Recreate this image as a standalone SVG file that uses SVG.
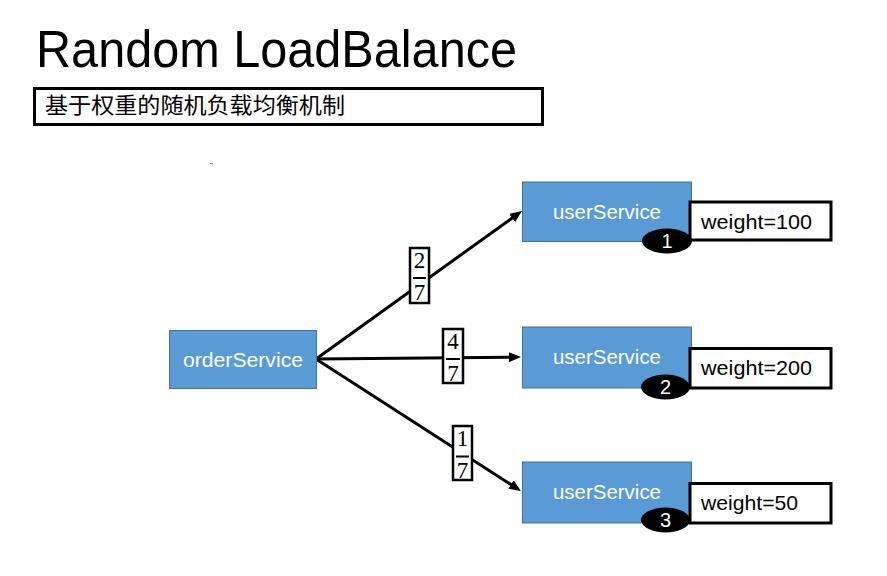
<svg xmlns="http://www.w3.org/2000/svg" width="887" height="576" viewBox="0 0 887 576">
<style>
.svc{fill:#5B9BD5;stroke:#41719C;stroke-width:1}
.svct{fill:#fff;font-family:"Liberation Sans",Arial,sans-serif;font-size:20px;text-anchor:middle}
.wbox{fill:#fff;stroke:#000;stroke-width:3}
.wt{fill:#000;font-family:"Liberation Sans",Arial,sans-serif;font-size:21px}
.badge{fill:#000}
.bt{fill:#fff;font-family:"Liberation Sans",Arial,sans-serif;font-size:20px;text-anchor:middle}
.edge{stroke:#000;stroke-width:3;fill:none;marker-end:url(#arr)}
.fbox{fill:#fff;stroke:#000;stroke-width:2.5}
.ft{fill:#000;font-family:"Liberation Serif","Times New Roman",serif;font-size:23px;text-anchor:middle}
</style>
<defs>
<marker id="arr" viewBox="0 0 12 10" refX="6" refY="5" markerWidth="12" markerHeight="10" markerUnits="userSpaceOnUse" orient="auto">
<path d="M0,0 L12,5 L0,10 z" fill="#000"/>
</marker>
</defs>
<rect width="887" height="576" fill="#fff"/>
<g id="title">
<text x="36" y="67" font-family="'Liberation Sans',Arial,sans-serif" font-size="52" textLength="481" lengthAdjust="spacingAndGlyphs" fill="#000">Random LoadBalance</text>
</g>
<g id="subtitle">
<rect x="34.5" y="88.5" width="508" height="36" fill="#fff" stroke="#000" stroke-width="3"/>
<text x="45" y="113" font-family="'Noto Sans CJK SC',sans-serif" font-size="22" textLength="300" lengthAdjust="spacingAndGlyphs" fill="#000">基于权重的随机负载均衡机制</text>
</g>
<line x1="210" y1="163.5" x2="213" y2="163.5" stroke="#888" stroke-width="1"/>
<g id="connectors">
<line class="edge" x1="316" y1="359" x2="517.1" y2="214.5"/>
<line class="edge" x1="316" y1="359" x2="515" y2="357.1"/>
<line class="edge" x1="316" y1="359" x2="516" y2="487.8"/>
<g id="frac1">
<rect class="fbox" x="410" y="248" width="19" height="55"/>
<text class="ft" x="419.5" y="268">2</text>
<line x1="413" y1="278" x2="426" y2="278" stroke="#000" stroke-width="2"/>
<text class="ft" x="419.5" y="300">7</text>
</g>
<g id="frac2">
<rect class="fbox" x="443" y="329" width="20" height="54"/>
<text class="ft" x="453" y="349">4</text>
<line x1="446" y1="359" x2="460" y2="359" stroke="#000" stroke-width="2"/>
<text class="ft" x="453" y="381">7</text>
</g>
<g id="frac3">
<rect class="fbox" x="453" y="426" width="19" height="54"/>
<text class="ft" x="462.5" y="446">1</text>
<line x1="456" y1="456.5" x2="469" y2="456.5" stroke="#000" stroke-width="2"/>
<text class="ft" x="462.5" y="478">7</text>
</g>
</g>
<g id="orderService">
<rect class="svc" x="169.5" y="330.5" width="147" height="58"/>
<text class="svct" x="243" y="366.5" textLength="120" lengthAdjust="spacingAndGlyphs">orderService</text>
</g>
<g id="userService1">
<rect class="svc" x="522.5" y="182" width="169" height="59.5"/>
<text class="svct" x="607" y="219" textLength="108" lengthAdjust="spacingAndGlyphs">userService</text>
<rect class="wbox" x="690" y="202" width="141" height="38"/>
<text class="wt" x="701" y="228.5" textLength="111" lengthAdjust="spacingAndGlyphs">weight=100</text>
<ellipse class="badge" cx="667" cy="241" rx="25" ry="12.5"/>
<text class="bt" x="667" y="248">1</text>
</g>
<g id="userService2">
<rect class="svc" x="522.5" y="327" width="169" height="61"/>
<text class="svct" x="607" y="364" textLength="108" lengthAdjust="spacingAndGlyphs">userService</text>
<rect class="wbox" x="690" y="348.5" width="141" height="39.5"/>
<text class="wt" x="701" y="375" textLength="111" lengthAdjust="spacingAndGlyphs">weight=200</text>
<ellipse class="badge" cx="665.5" cy="387" rx="24.5" ry="12.5"/>
<text class="bt" x="665.5" y="394">2</text>
</g>
<g id="userService3">
<rect class="svc" x="522.5" y="462" width="169" height="61"/>
<text class="svct" x="607" y="499" textLength="108" lengthAdjust="spacingAndGlyphs">userService</text>
<rect class="wbox" x="690" y="483.5" width="141" height="39.5"/>
<text class="wt" x="701" y="509.5" textLength="97" lengthAdjust="spacingAndGlyphs">weight=50</text>
<ellipse class="badge" cx="665.5" cy="520" rx="24.5" ry="12.5"/>
<text class="bt" x="665.5" y="527">3</text>
</g>
</svg>
